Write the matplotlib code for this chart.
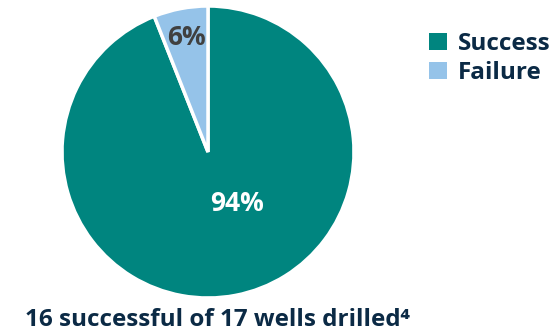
import matplotlib.pyplot as plt
from matplotlib.patches import Patch

labels = ['Success', 'Failure']
values = [94, 6]
colors = ['#00857F', '#95C3E9']
title = '16 successful of 17 wells drilled\u2074'

plt.rcParams['font.family'] = ['Open Sans', 'DejaVu Sans']

fig = plt.figure(figsize=(5.6, 3.34), dpi=100)
ax = fig.add_axes([62 / 560, 36 / 334, 292 / 560, 292 / 334])

wedges, texts, autotexts = ax.pie(values, colors=colors, startangle=90, counterclock=False,
                                  autopct='%d%%', pctdistance=0.8, radius=1,
                                  wedgeprops=dict(edgecolor='white', linewidth=2.5))
ax.set_xlim(-1, 1)
ax.set_ylim(-1, 1)
ax.set_aspect('equal')

# percent labels
autotexts[0].set_position((0.2, -0.35))
autotexts[0].set_color('white')
autotexts[1].set_color('#404040')
for t in autotexts:
    t.set_fontsize(19)
    t.set_fontweight('bold')

# legend on the right
handles = [Patch(facecolor=c, edgecolor='none') for c in colors]
fig.legend(handles, labels, loc='upper left', bbox_to_anchor=(417 / 560, 1 - 20 / 334),
           frameon=False, handlelength=0.74, handleheight=0.74,
           handletextpad=0.45, labelspacing=0.2, borderpad=0,
           prop=dict(weight='bold', size=17.5), labelcolor='#0B2A45')

fig.text(217 / 560, 1 - 320 / 334, title, ha='center', va='center',
         fontsize=17.5, fontweight='bold', color='#0B2A45')

fig.savefig('out.png', dpi=100)
